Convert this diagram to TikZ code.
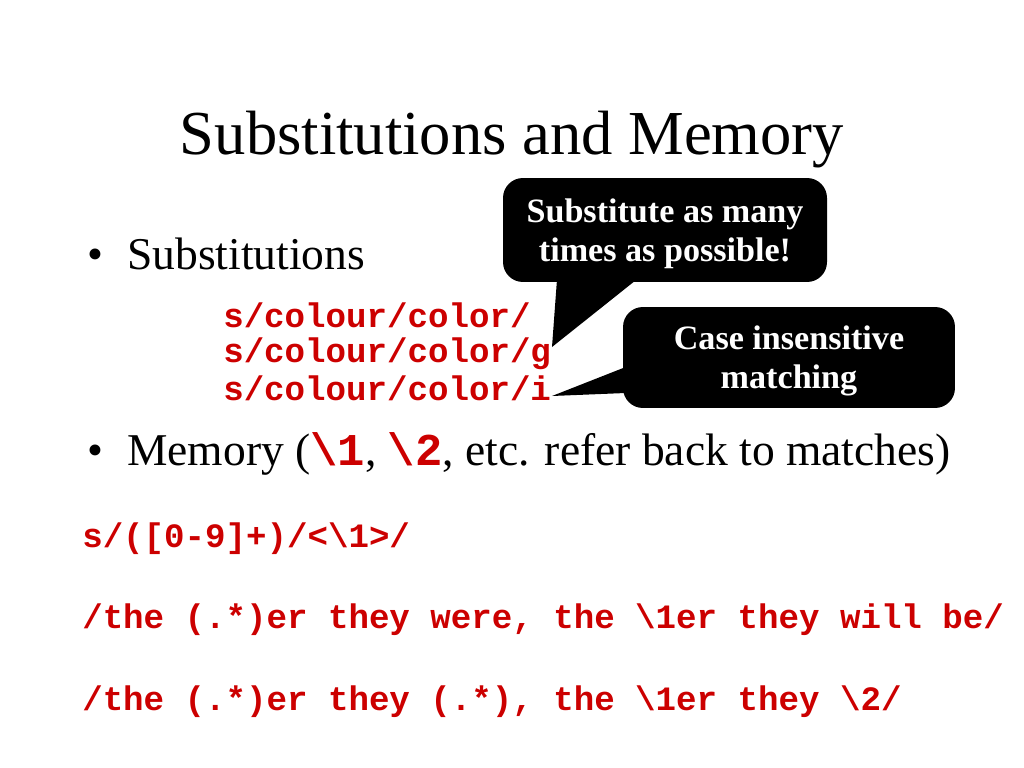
\documentclass[tikz,border=0pt]{standalone}
\usepackage{fontspec}
\setmainfont{Liberation Serif}
\newfontfamily\codefont{Liberation Mono}
\definecolor{codered}{RGB}{204,0,0}
\newcommand{\redcode}[1]{{\codefont\bfseries\color{codered}#1}}
\newcommand{\topstrut}{\rule{0pt}{22pt}}

\begin{document}
\begin{tikzpicture}[x=0.703125pt, y=-0.703125pt,
  txt/.style = {anchor=base west, inner sep=0pt, font=\fontsize{32}{38}\selectfont},
  code/.style = {anchor=base west, inner sep=0pt, text=codered, font=\codefont\bfseries\fontsize{24}{28}\selectfont},
  bubble/.style = {fill=black, rounded corners=14pt, text=white, align=center, inner sep=0pt, font=\bfseries\fontsize{24}{27.5}\selectfont}]
  \useasboundingbox (0,0) rectangle (1024,768);

  \node[anchor=base, inner sep=0pt, font=\fontsize{44}{53}\selectfont] (title) at (512,155) {Substitutions and Memory};

  \node[txt] (dot1) at (87,270) {\textbullet};
  \node[txt] (subst) at (127,270) {Substitutions};
  \node[code] (c1) at (223,327) {s/colour/color/};
  \node[code] (c2) at (223,362) {s/colour/color/g};
  \node[code] (c3) at (223,400) {s/colour/color/i};

  \node[txt] (dot2) at (87,465) {\textbullet};
  \node[txt] (mem) at (127,465) {Memory (\redcode{\textbackslash 1}, \redcode{\textbackslash 2}, etc. refer back to matches)};
  \node[code] (c4) at (82,547) {s/([0-9]+)/<\textbackslash 1>/};
  \node[code] (c5) at (82,628) {/the (.*)er they were, the \textbackslash 1er they will be/};
  \node[code] (c6) at (82,710) {/the (.*)er they (.*), the \textbackslash 1er they \textbackslash 2/};

  % callouts
  \node[bubble, minimum width=227.8pt, minimum height=73.1pt] (many) at (665,230) {\topstrut Substitute as many\\times as possible!};
  \node[bubble, minimum width=233.4pt, minimum height=71pt] (case) at (789,357.5) {\topstrut Case insensitive\\matching};
  \coordinate (gtip) at (552,347);
  \coordinate (itip) at (552,396);
  \fill ([shift={(-108,-3)}]many.south) -- (gtip) -- ([shift={(-28,-3)}]many.south) -- cycle;
  \fill ([shift={(3,9.5)}]case.west) -- (itip) -- ([shift={(3,35.5)}]case.west) -- cycle;

\end{tikzpicture}
\end{document}
